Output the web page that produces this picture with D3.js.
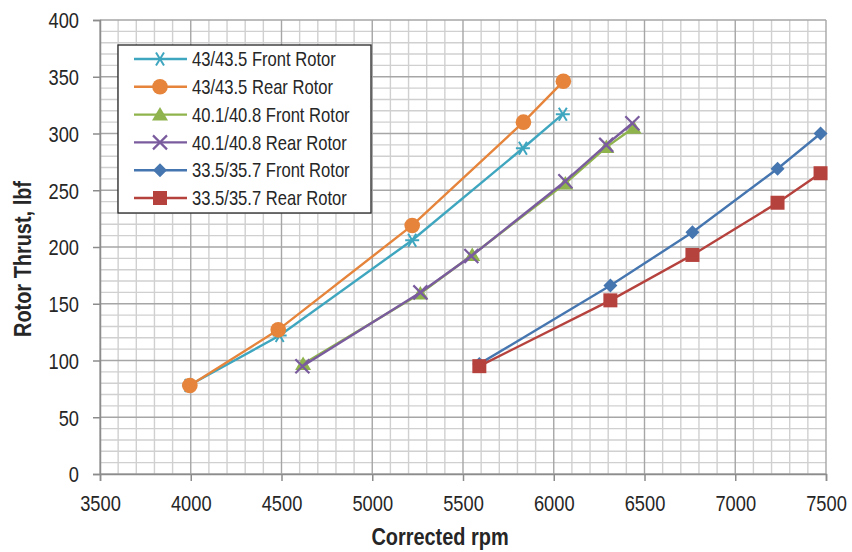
<!DOCTYPE html>
<html>
<head>
<meta charset="utf-8">
<script src="https://cdn.jsdelivr.net/npm/d3@7"></script>
<style>
  body { margin: 0; background: #fff; }
  text { font-family: "Liberation Sans", Arial, sans-serif; fill: #262626; }
</style>
</head>
<body>
<div id="graph"></div>
<script>
// series names, colours and symbols
var names = ["43/43.5 Front Rotor", "43/43.5 Rear Rotor", "40.1/40.8 Front Rotor",
             "40.1/40.8 Rear Rotor", "33.5/35.7 Front Rotor", "33.5/35.7 Rear Rotor"];
var colors = ["#3FA6BF", "#E5843A", "#8FB34D", "#7A5C9E", "#4676B0", "#B6423E"];
var symbols = ["asterisk", "circle", "triangle", "cross", "diamond", "square"];

// readings: rpm / thrust per series
var rpm1 = [3990, 4490, 5220, 5830, 6050];
var thrust1 = [78, 122, 206, 287, 317];
var rpm2 = [3995, 4482, 5220, 5833, 6053];
var thrust2 = [78, 127, 219, 310, 346];
var rpm3 = [4619, 5265, 5551, 6064, 6290, 6440];
var thrust3 = [97, 159, 193, 256, 288, 305];
var rpm4 = [4615, 5265, 5546, 6064, 6289, 6433];
var thrust4 = [95, 160, 192, 258, 290, 309];
var rpm5 = [5590, 6312, 6764, 7233, 7470];
var thrust5 = [97, 166, 213, 269, 300];
var rpm6 = [5590, 6312, 6764, 7233, 7470];
var thrust6 = [95, 153, 193, 239, 265];

var xTicks = [3500, 4000, 4500, 5000, 5500, 6000, 6500, 7000, 7500];
var yTicks = [0, 50, 100, 150, 200, 250, 300, 350, 400];

var rpms = [rpm1, rpm2, rpm3, rpm4, rpm5, rpm6];
var thrusts = [thrust1, thrust2, thrust3, thrust4, thrust5, thrust6];

// horizontal squeeze to imitate a narrow face
var squeeze = 0.83;

var margin = { top: 20, right: 26, bottom: 78, left: 100 },
    width = 852 - margin.left - margin.right,
    height = 552 - margin.top - margin.bottom;

var svg = d3.select('#graph').append('svg')
    .attr('width', 852)
    .attr('height', 552)
    .append("g")
    .attr("transform", "translate(" + margin.left + "," + margin.top + ")");

var x = d3.scaleLinear().domain([3500, 7500]).range([0, width]);
var y = d3.scaleLinear().domain([0, 400]).range([height, 0]);

// minor grid
svg.append("g").selectAll("line")
    .data(d3.range(3600, 7500, 100).filter(function(v){ return v % 500 != 0; }))
    .enter().append("line")
    .attr("x1", function(d){ return x(d); }).attr("x2", function(d){ return x(d); })
    .attr("y1", 0).attr("y2", height)
    .style("stroke", "#d0d0d0").style("stroke-width", 1.4);
svg.append("g").selectAll("line")
    .data(d3.range(10, 400, 10).filter(function(v){ return v % 50 != 0; }))
    .enter().append("line")
    .attr("y1", function(d){ return y(d); }).attr("y2", function(d){ return y(d); })
    .attr("x1", 0).attr("x2", width)
    .style("stroke", "#d0d0d0").style("stroke-width", 1.4);

// major grid
svg.append("g").selectAll("line")
    .data(xTicks)
    .enter().append("line")
    .attr("x1", function(d){ return x(d); }).attr("x2", function(d){ return x(d); })
    .attr("y1", 0).attr("y2", height)
    .style("stroke", "#a6a6a6").style("stroke-width", 1.4);
svg.append("g").selectAll("line")
    .data(yTicks)
    .enter().append("line")
    .attr("y1", function(d){ return y(d); }).attr("y2", function(d){ return y(d); })
    .attr("x1", 0).attr("x2", width)
    .style("stroke", "#a6a6a6").style("stroke-width", 1.4);

// axes
var xAxis = svg.append("g")
    .attr("transform", "translate(0," + height + ")")
    .call(d3.axisBottom(x).tickValues(xTicks).tickSize(7).tickFormat(d3.format("d")));
var yAxis = svg.append("g")
    .call(d3.axisLeft(y).tickValues(yTicks).tickSize(7));
[xAxis, yAxis].forEach(function(a){
    a.select(".domain").style("stroke", "#8c8c8c").style("stroke-width", 1.5);
    a.selectAll(".tick line").style("stroke", "#8c8c8c").style("stroke-width", 1.5);
    a.selectAll(".tick text")
        .style("font-size", "22px")
        .style("font-family", "'Liberation Sans', Arial, sans-serif")
        .style("fill", "#262626")
        .attr("transform", "scale(" + squeeze + ",1)");
});
xAxis.selectAll(".tick text").attr("y", 37).attr("dy", null);
yAxis.selectAll(".tick text").attr("x", -21 / squeeze).attr("dy", "0.36em");

// axis titles
svg.append("g")
    .attr("transform", "translate(" + (440 - margin.left) + "," + (height + 71) + ")")
  .append("text")
    .attr("text-anchor", "middle")
    .attr("transform", "scale(" + squeeze + ",1)")
    .style("font-size", "24px")
    .style("font-weight", "bold")
    .text("Corrected rpm");
svg.append("g")
    .attr("transform", "translate(" + (31 - margin.left) + "," + (259 - margin.top) + ") rotate(-90)")
  .append("text")
    .attr("text-anchor", "middle")
    .attr("transform", "scale(" + squeeze + ",1)")
    .style("font-size", "24px")
    .style("font-weight", "bold")
    .text("Rotor Thrust, lbf");

function marker(g, type, color) {
    if (type == "asterisk") {
        g.append("path").attr("d", "M-7,0L7,0M-4,-6.5L4,6.5M-4,6.5L4,-6.5")
            .style("stroke", color).style("stroke-width", 2).style("fill", "none");
    } else if (type == "cross") {
        g.append("path").attr("d", "M-7,-7L7,7M-7,7L7,-7")
            .style("stroke", color).style("stroke-width", 2.2).style("fill", "none");
    } else if (type == "triangle") {
        g.append("path").attr("d", "M0,-7.5L8,6L-8,6Z").style("fill", color);
    } else if (type == "diamond") {
        g.append("path").attr("d", "M0,-7L7,0L0,7L-7,0Z").style("fill", color);
    } else if (type == "square") {
        g.append("path").attr("d", "M-7,-7H7V7H-7Z").style("fill", color);
    } else {
        g.append("circle").attr("r", 7.8).style("fill", color);
    }
}

var line = d3.line()
    .x(function(d){ return x(d[0]); })
    .y(function(d){ return y(d[1]); });

names.forEach(function(name, i){
    var pts = rpms[i].map(function(r, j){ return [r, thrusts[i][j]]; });
    var g = svg.append("g");
    g.append("path").datum(pts)
        .attr("d", line)
        .style("fill", "none")
        .style("stroke", colors[i])
        .style("stroke-width", 2.4);
    pts.forEach(function(p){
        var m = g.append("g").attr("transform", "translate(" + x(p[0]) + "," + y(p[1]) + ")");
        marker(m, symbols[i], colors[i]);
    });
});

// legend
var legend = svg.append("g").attr("transform", "translate(18,25)");
legend.append("rect")
    .attr("width", 253).attr("height", 168)
    .style("fill", "#fff").style("stroke", "#262626").style("stroke-width", 1.3);
names.forEach(function(name, i){
    var row = legend.append("g").attr("transform", "translate(0," + (14 + i * 27.8) + ")");
    row.append("line").attr("x1", 16).attr("x2", 69).attr("y1", 0).attr("y2", 0)
        .style("stroke", colors[i]).style("stroke-width", 2.4);
    var m = row.append("g").attr("transform", "translate(42,0)");
    marker(m, symbols[i], colors[i]);
    row.append("g").attr("transform", "translate(74,0)")
      .append("text")
        .attr("dy", "0.36em")
        .attr("transform", "scale(" + squeeze + ",1)")
        .style("font-size", "20px")
        .text(name);
});
</script>
</body>
</html>
